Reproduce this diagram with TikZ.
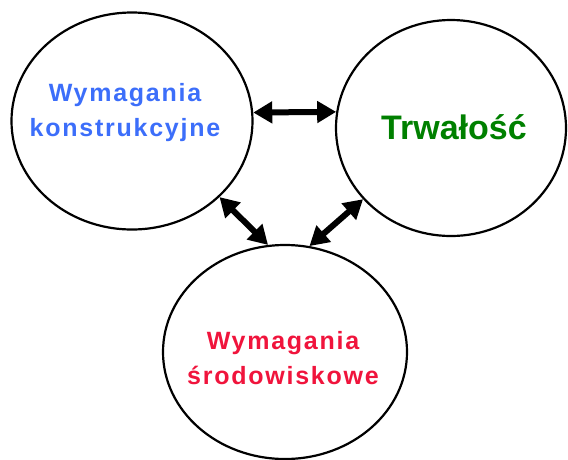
\documentclass[tikz,border=0pt]{standalone}
\usepackage{fontspec}
\setmainfont{Liberation Sans}
\newfontfamily\spaced{Liberation Sans}[LetterSpace=7]
\usetikzlibrary{shapes.geometric,arrows.meta}
\definecolor{konstr}{RGB}{60,110,250}
\definecolor{trwal}{RGB}{0,128,0}
\definecolor{srodow}{RGB}{240,20,60}
\begin{document}
\begin{tikzpicture}[x=1pt,y=-1pt,
        oval/.style={ellipse,draw,line width=2.2pt,inner sep=0pt},
        label text/.style={font=\spaced\bfseries\fontsize{25}{35}\selectfont,align=center},
        link/.style={{Triangle[length=19pt,width=21pt]}-{Triangle[length=19pt,width=21pt]},line width=6pt}]
        \useasboundingbox (0,0) rectangle (568,459);
        \node[oval,minimum width=241pt,minimum height=217pt] (kon) at (132,121) {};
        \node[oval,minimum width=230pt,minimum height=216pt] (trw) at (451,128) {};
        \node[oval,minimum width=244pt,minimum height=214pt] (sro) at (285,352) {};
        \node[label text,text=konstr] (kont) at (125,113) {Wymagania\\konstrukcyjne};
        \node[label text,text=trwal,font=\bfseries\fontsize{34}{35}\selectfont] (trwt) at (454,127) {Trwałość};
        \node[label text,text=srodow] (srot) at (283,358) {Wymagania\\środowiskowe};
        \draw[link] (kon.4) -- (trw.172);
        \draw[link] (kon.-41) -- (sro.99);
        \draw[link] (trw.219) -- (sro.77);
      \end{tikzpicture}
\end{document}
